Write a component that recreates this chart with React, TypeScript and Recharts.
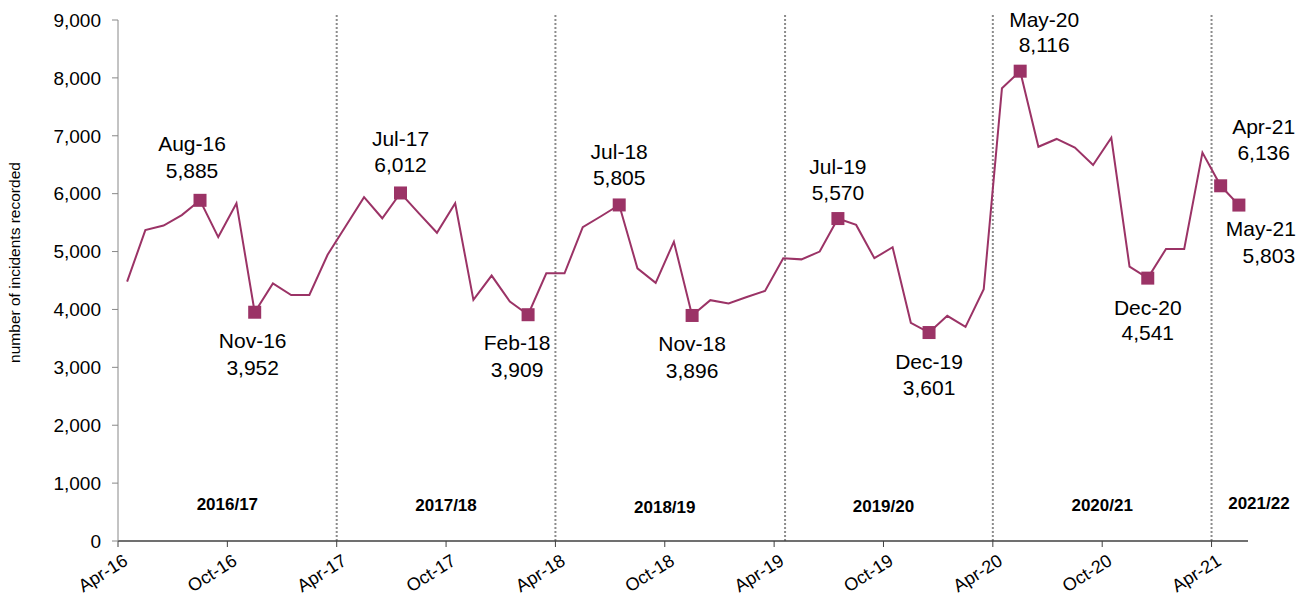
import { LineChart, Line, XAxis, YAxis, ReferenceLine, ReferenceDot } from "recharts";

const months = [
  "Apr-16", "May-16", "Jun-16", "Jul-16", "Aug-16", "Sep-16", "Oct-16", "Nov-16", "Dec-16",
  "Jan-17", "Feb-17", "Mar-17", "Apr-17", "May-17", "Jun-17", "Jul-17", "Aug-17", "Sep-17", "Oct-17", "Nov-17", "Dec-17",
  "Jan-18", "Feb-18", "Mar-18", "Apr-18", "May-18", "Jun-18", "Jul-18", "Aug-18", "Sep-18", "Oct-18", "Nov-18", "Dec-18",
  "Jan-19", "Feb-19", "Mar-19", "Apr-19", "May-19", "Jun-19", "Jul-19", "Aug-19", "Sep-19", "Oct-19", "Nov-19", "Dec-19",
  "Jan-20", "Feb-20", "Mar-20", "Apr-20", "May-20", "Jun-20", "Jul-20", "Aug-20", "Sep-20", "Oct-20", "Nov-20", "Dec-20",
  "Jan-21", "Feb-21", "Mar-21", "Apr-21", "May-21",
];

const incidents = [
  4480, 5370, 5450, 5630, 5885, 5250, 5835, 3952, 4450,
  4250, 4250, 4945, 5440, 5940, 5575, 6012, 5665, 5325, 5835, 4165, 4585,
  4135, 3909, 4625, 4625, 5420, 5610, 5805, 4710, 4460, 5170, 3896, 4160,
  4105, 4215, 4320, 4885, 4865, 5000, 5570, 5460, 4885, 5075, 3770, 3601,
  3890, 3700, 4350, 7820, 8116, 6810, 6945, 6795, 6495, 6965, 4740, 4541,
  5045, 5045, 6710, 6136, 5803,
];

const tickLabels = ["Apr-16", "Oct-16", "Apr-17", "Oct-17", "Apr-18", "Oct-18", "Apr-19", "Oct-19", "Apr-20", "Oct-20", "Apr-21"];
const yTicks = [0, 1000, 2000, 3000, 4000, 5000, 6000, 7000, 8000, 9000];
const yearStarts = ["Apr-17", "Apr-18", "Apr-19", "Apr-20", "Apr-21"];
const seasons = ["2016/17", "2017/18", "2018/19", "2019/20", "2020/21", "2021/22"];

// label placement for the highlighted months (px offsets from the marker)
const callouts: Record<string, { dx: number; dx2?: number; dy1: number; dy2: number }> = {
  "Aug-16": { dx: -8, dy1: -57, dy2: -30 },
  "Nov-16": { dx: -2, dy1: 28, dy2: 55 },
  "Jul-17": { dx: 0, dy1: -54, dy2: -28 },
  "Feb-18": { dx: -11, dy1: 28, dy2: 55 },
  "Jul-18": { dx: 0, dy1: -53, dy2: -27 },
  "Nov-18": { dx: 0, dy1: 28, dy2: 55 },
  "Jul-19": { dx: 0, dy1: -52, dy2: -26 },
  "Dec-19": { dx: 0, dy1: 29, dy2: 55 },
  "May-20": { dx: 24, dy1: -52, dy2: -27 },
  "Dec-20": { dx: 0, dy1: 29, dy2: 54 },
  "Apr-21": { dx: 43, dy1: -59, dy2: -33 },
  "May-21": { dx: 22, dx2: 30, dy1: 23, dy2: 50 },
};

// fiscal-year label centres, in months from Apr-16
const seasonPos = [6, 18, 30, 42, 54, 62.6];
const seasonY = [640, 620, 590, 610, 620, 650];
const lineNudge: Record<string, number> = { "Apr-19": 0.6 };

const PLUM = "#9b3366";
const FONT = "Liberation Sans, Arial, sans-serif";

const data = months.map((m, i) => ({ pos: i + 0.5, month: m, value: incidents[i] }));
const fmt = (v: number) => v.toLocaleString("en-US");

const renderDot = (props: any) => {
  const { cx, cy, payload, index } = props;
  const c = callouts[payload.month];
  if (!c) return <g key={`d${index}`} />;
  return (
    <g key={`d${index}`}>
      <rect x={cx - 6.5} y={cy - 6.5} width={13} height={13} fill={PLUM} />
      <text x={cx + c.dx} y={cy + c.dy1} textAnchor="middle" dominantBaseline="central" fontSize={21} fill="#000" fontFamily={FONT}>
        {payload.month}
      </text>
      <text x={cx + (c.dx2 ?? c.dx)} y={cy + c.dy2} textAnchor="middle" dominantBaseline="central" fontSize={21} fill="#000" fontFamily={FONT}>
        {fmt(payload.value)}
      </text>
    </g>
  );
};

const XTick = ({ x, y, payload }: any) => {
  const label = tickLabels[Math.round(payload.value / 6)];
  return (
    <g transform={`translate(${x + 11},${y + 15}) rotate(-32)`}>
      <text textAnchor="end" fontSize={18} fill="#000" fontFamily={FONT}>
        {label}
      </text>
    </g>
  );
};

const App = () => {
  return (
    <div style={{ position: "absolute", left: 0, top: 0, width: 1311, height: 596, background: "#fff" }}>
      <LineChart width={1311} height={596} data={data} margin={{ top: 20, right: 63, bottom: 0, left: 0 }}>
        <XAxis
          type="number"
          dataKey="pos"
          domain={[0, 62]}
          ticks={tickLabels.map((_, i) => i * 6)}
          tick={<XTick />}
          tickSize={6}
          height={55}
          interval={0}
          axisLine={{ stroke: "#404040", strokeWidth: 1.5 }}
          tickLine={{ stroke: "#404040" }}
        />
        <YAxis
          domain={[0, 9000]}
          ticks={yTicks}
          tickFormatter={fmt}
          width={118}
          tickSize={6}
          tickMargin={11}
          interval={0}
          axisLine={{ stroke: "#888" }}
          tickLine={{ stroke: "#888" }}
          tick={{ fontSize: 19, fill: "#000", fontFamily: FONT }}
          label={{
            value: "number of incidents recorded",
            angle: -90,
            position: "insideLeft",
            dx: 9,
            dy: -18,
            style: { textAnchor: "middle", fontSize: 15.5, fill: "#000", fontFamily: FONT },
          }}
        />
        {yearStarts.map((m) => (
          <ReferenceLine
            key={m}
            segment={[
              { x: months.indexOf(m) + (lineNudge[m] ?? 0), y: 0 },
              { x: months.indexOf(m) + (lineNudge[m] ?? 0), y: 9120 },
            ]}
            ifOverflow="visible"
            stroke="#8c8c8c"
            strokeWidth={2}
            strokeDasharray="2 2"
          />
        ))}
        {seasons.map((s, i) => (
          <ReferenceDot
            key={s}
            x={seasonPos[i]}
            y={seasonY[i]}
            r={0}
            fill="none"
            stroke="none"
            ifOverflow="visible"
            label={{ value: s, position: "center", fontSize: 17, fontWeight: "bold", fill: "#000", fontFamily: FONT }}
          />
        ))}
        <Line
          type="linear"
          dataKey="value"
          stroke={PLUM}
          strokeWidth={2}
          dot={renderDot}
          activeDot={false}
          isAnimationActive={false}
        />
      </LineChart>
    </div>
  );
};

export default App;
